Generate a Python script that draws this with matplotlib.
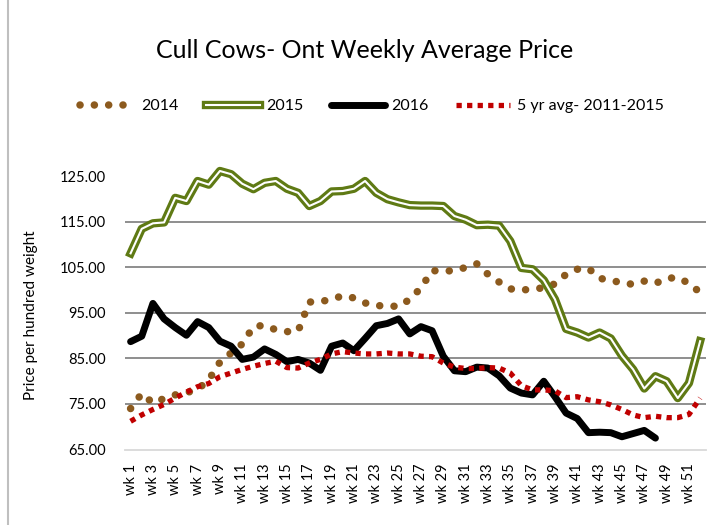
import numpy as np
import matplotlib
matplotlib.use("Agg")
import matplotlib.pyplot as plt
import matplotlib.patheffects as pe
from matplotlib.lines import Line2D

# --- Data ---
weeks = np.arange(1, 53)
week_labels = ["wk %d" % w for w in weeks]

price_2014 = [74.0, 77.3, 75.2, 76.2, 77.0, 77.5, 78.2, 80.3, 84.2, 86.2,
              88.2, 92.0, 92.3, 91.3, 90.9, 91.0, 97.4, 97.5, 98.0, 98.8,
              98.3, 97.2, 96.6, 96.6, 96.4, 98.0, 100.5, 104.3, 104.2, 104.3,
              105.0, 105.8, 103.5, 101.8, 100.3, 100.0, 100.3, 100.5, 101.4, 103.5,
              104.6, 104.8, 102.6, 102.2, 101.6, 101.3, 102.0, 101.5, 102.6, 102.8,
              101.5, 99.5]

price_2015 = [108.1, 113.5, 114.7, 114.9, 120.3, 119.6, 124.0, 123.2, 126.2, 125.5,
              123.4, 122.2, 123.6, 124.0, 122.3, 121.4, 118.5, 119.6, 121.7, 121.8,
              122.3, 124.0, 121.4, 120.0, 119.3, 118.7, 118.6, 118.6, 118.5, 116.3,
              115.5, 114.3, 114.4, 114.2, 110.8, 104.9, 104.6, 102.2, 98.0, 91.5,
              90.7, 89.6, 90.7, 89.4, 85.6, 82.6, 78.4, 81.1, 80.0, 76.3,
              79.6, 88.8]

price_2016 = [88.7, 89.9, 97.1, 93.7, 91.8, 90.1, 93.1, 91.8, 88.8, 87.7,
              84.8, 85.3, 87.1, 85.9, 84.3, 84.8, 84.0, 82.4, 87.7, 88.4,
              86.7, 89.4, 92.2, 92.7, 93.7, 90.4, 92.0, 91.1, 85.5, 82.3,
              82.1, 83.1, 82.9, 81.2, 78.5, 77.4, 77.0, 80.0, 76.6, 73.0,
              71.8, 68.7, 68.8, 68.7, 67.8, 68.5, 69.2, 67.5]

avg_5yr = [71.2, 72.6, 73.8, 74.9, 76.3, 77.6, 78.8, 79.5, 81.0, 81.8,
           82.6, 83.3, 83.9, 84.4, 83.0, 82.9, 84.0, 84.8, 86.0, 86.5,
           86.2, 86.0, 86.0, 86.2, 86.0, 86.0, 85.5, 85.4, 84.0, 83.1,
           82.8, 82.8, 83.0, 82.9, 81.8, 79.0, 78.1, 78.1, 77.9, 76.4,
           76.6, 75.9, 75.5, 74.8, 73.8, 72.6, 72.0, 72.3, 72.0, 72.0,
           72.7, 76.3]

# --- Styles ---
BROWN = "#8c5a1e"
GREEN = "#5f7a14"
RED = "#c00000"
FONT = "Lato"

plt.rcParams["font.family"] = FONT

fig = plt.figure(figsize=(7.2, 5.25), dpi=100)
ax = fig.add_axes([125 / 720, 1 - 449.5 / 525, 580.7 / 720, 286.7 / 525])

# 2014: round dots along the line
ax.plot(weeks[:len(price_2014)], price_2014, color=BROWN, lw=5.4,
        linestyle=(0, (0.01, 1.9)), dash_capstyle="round", label="2014", zorder=3)

# 2015: double line (green with white core)
ax.plot(weeks[:len(price_2015)], price_2015, color="white", lw=1.5,
        solid_joinstyle="round",
        path_effects=[pe.Stroke(linewidth=6.0, foreground=GREEN), pe.Normal()],
        label="2015", zorder=4)

# 2016: thick black
ax.plot(weeks[:len(price_2016)], price_2016, color="black", lw=5.0,
        solid_capstyle="round", solid_joinstyle="round", label="2016", zorder=5)

# 5 yr average: square dots
ax.plot(weeks[:len(avg_5yr)], avg_5yr, color=RED, lw=3.8,
        linestyle=(0, (1, 1)), dash_capstyle="butt",
        label="5 yr avg- 2011-2015", zorder=6)

# --- Axes formatting ---
ax.set_xlim(0.5, 52.5)
ax.set_ylim(65, 128)
yticks = np.arange(65, 126, 10)
ax.set_yticks(yticks)
ax.set_yticklabels(["%.2f" % v for v in yticks], fontsize=10.5)
for v in yticks[1:-1]:
    ax.axhline(v, color="#868686", lw=1.3, zorder=1)

ax.set_xticks(weeks[::2])
ax.set_xticklabels(week_labels[::2], rotation=90, fontsize=10.5)
ax.tick_params(length=0, pad=10)
ax.tick_params(axis="y", pad=14)

for side in ["top", "right", "left"]:
    ax.spines[side].set_visible(False)
ax.spines["bottom"].set_color("#d9d9d9")
ax.spines["bottom"].set_linewidth(1.3)

ax.set_ylabel("Price per hundred weight", fontsize=11)
ax.yaxis.set_label_coords(-0.15, 0.47)

fig.text(365 / 720, 1 - 50 / 525, "Cull Cows- Ont Weekly Average Price",
         ha="center", va="center", fontsize=18)

fig.legend(loc="center", bbox_to_anchor=(372 / 720, 1 - 106 / 525), ncol=4,
           frameon=False, fontsize=11.5, handlelength=3.4, columnspacing=1.7,
           handletextpad=0.4)

# chart border on the left
fig.add_artist(Line2D([8 / 720, 8 / 720], [0, 1], color="#bfbfbf", lw=1.5))

fig.savefig("out.png", dpi=100)
